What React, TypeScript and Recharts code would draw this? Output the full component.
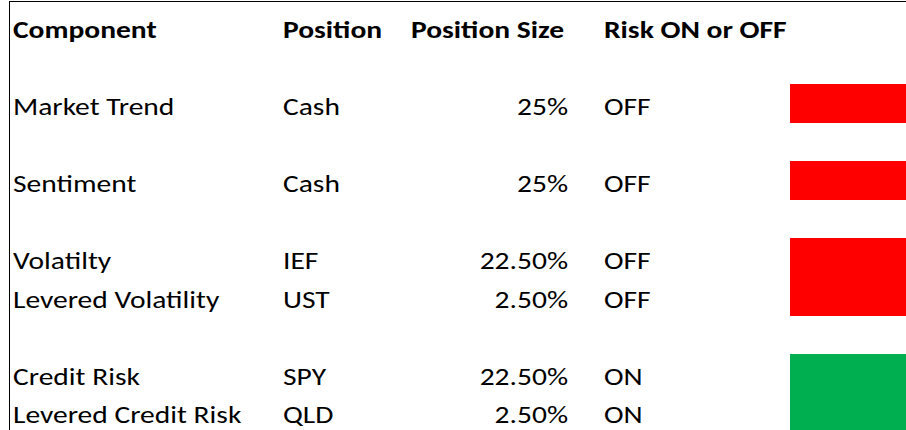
import React from 'react';
import { ComposedChart, Bar, XAxis, YAxis } from 'recharts';

// sheet layout: header is row 0, blank rows sit between the groups
const headers = ['Component', 'Position', 'Position Size', 'Risk ON or OFF'];
const components = ['Market Trend', 'Sentiment', 'Volatilty', 'Levered Volatility', 'Credit Risk', 'Levered Credit Risk'];
const positions = ['Cash', 'Cash', 'IEF', 'UST', 'SPY', 'QLD'];
const sizes = ['25%', '25%', '22.50%', '2.50%', '22.50%', '2.50%'];
const riskFlags = ['OFF', 'OFF', 'OFF', 'OFF', 'ON', 'ON'];
const sheetRows = [2, 4, 6, 7, 9, 10];

const FONT = 'Carlito, Lato, sans-serif';
const RED = '#FF0000';
const GREEN = '#00B050';
const STRETCH = 1.23; // the sheet's Calibri renders wider than Lato
const ROW_H = 39;

const data = components.map((name, i) => ({
  row: sheetRows[i],
  name,
  signal: 1,
  risk: riskFlags[i],
}));

const Celltext = ({ x, y, bold, end, children }: any) => (
  <text
    transform={`translate(${x},${y}) scale(${STRETCH},1)`}
    fontFamily={FONT}
    fontSize={24}
    fontWeight={bold ? 700 : 400}
    fill="#000"
    textAnchor={end ? 'end' : 'start'}
  >
    {children}
  </text>
);

const RowTick = (props: any) => {
  const { y, payload } = props;
  const row = payload.value;
  const base = y + 11.5;

  if (row === 0) {
    return (
      <g>
        <Celltext x={13} y={base} bold>{headers[0]}</Celltext>
        <Celltext x={283} y={base} bold>{headers[1]}</Celltext>
        <Celltext x={564} y={base} bold end>{headers[2]}</Celltext>
        <Celltext x={604} y={base} bold>{headers[3]}</Celltext>
      </g>
    );
  }
  const i = sheetRows.indexOf(row);
  if (i < 0) return <g />;
  return (
    <g>
      <Celltext x={13} y={base}>{components[i]}</Celltext>
      <Celltext x={283} y={base}>{positions[i]}</Celltext>
      <Celltext x={568} y={base} end>{sizes[i]}</Celltext>
      <Celltext x={604} y={base}>{riskFlags[i]}</Celltext>
    </g>
  );
};

// full-row signal block, so neighbouring rows join into one block
const SignalBlock = (p: any) => {
  const cy = p.y + p.height / 2;
  return (
    <rect
      x={p.x}
      y={cy - ROW_H / 2}
      width={p.width}
      height={ROW_H}
      shapeRendering="crispEdges"
      fill={p.payload.risk === 'ON' ? GREEN : RED}
    />
  );
};

export default function App() {
  return (
    <div style={{ position: 'absolute', left: 0, top: 0, width: 906, height: 430, overflow: 'hidden', background: '#fff' }}>
      <div style={{ position: 'absolute', left: 9, top: 1, width: 897, height: 429, borderTop: '1px solid #000', borderLeft: '1px solid #000' }} />
      <ComposedChart
        width={906}
        height={431}
        layout="vertical"
        data={data}
        barCategoryGap={0}
        barGap={0}
        margin={{ top: 7, right: 0, bottom: 0, left: 0 }}
      >
        <XAxis type="number" domain={[0, 1]} hide />
        <YAxis
          type="number"
          dataKey="row"
          domain={[-0.5, 10.5]}
          ticks={[0, ...sheetRows]}
          interval={0}
          width={790}
          axisLine={false}
          tickLine={false}
          tick={(p: any) => <RowTick {...p} />}
        />
        <Bar dataKey="signal" barSize={ROW_H} shape={SignalBlock} isAnimationActive={false} />
      </ComposedChart>
    </div>
  );
}
